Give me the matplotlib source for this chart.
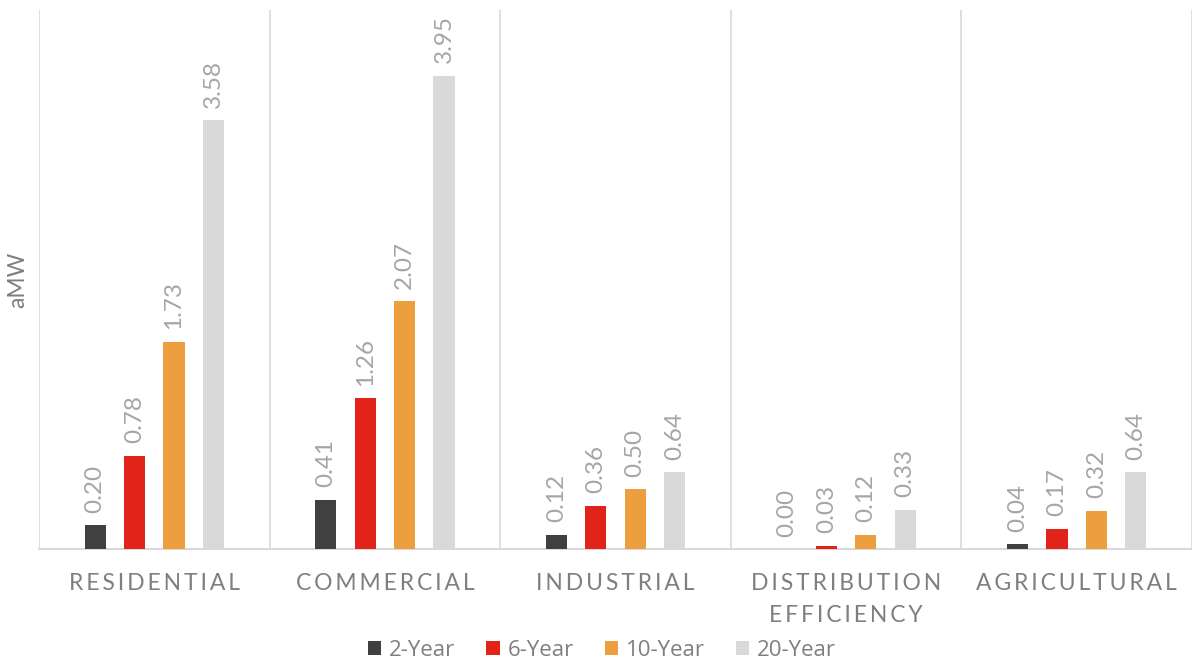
import matplotlib.pyplot as plt
import numpy as np

plt.rcParams['font.family'] = ['Lato', 'DejaVu Sans']

categories = ['RESIDENTIAL', 'COMMERCIAL', 'INDUSTRIAL', 'DISTRIBUTION\nEFFICIENCY', 'AGRICULTURAL']
series_names = ['2-Year', '6-Year', '10-Year', '20-Year']
data_2yr = [0.20, 0.41, 0.12, 0.00, 0.04]
data_6yr = [0.78, 1.26, 0.36, 0.03, 0.17]
data_10yr = [1.73, 2.07, 0.50, 0.12, 0.32]
data_20yr = [3.58, 3.95, 0.64, 0.33, 0.64]

colors = ['#404040', '#E2231A', '#ED9E3F', '#D9D9D9']
series = [data_2yr, data_6yr, data_10yr, data_20yr]


def spaced(s):
    # mimic Excel's letter spacing on the category labels
    return '\n'.join('\u2009'.join(line) for line in s.split('\n'))


fig = plt.figure(figsize=(11.92, 6.6), dpi=100)
ax = fig.add_axes([0.0327, 0.168, 0.9673, 0.817])

index = np.arange(len(categories))
width = 0.092
step = 0.171

for i, (vals, name, col) in enumerate(zip(series, series_names, colors)):
    pos = index + (i - 1.5) * step
    bars = ax.bar(pos, vals, width, color=col, label=name, zorder=3)
    for b, v in zip(bars, vals):
        ax.annotate('%.2f' % v, (b.get_x() + b.get_width() / 2, v),
                    xytext=(0, 9), textcoords='offset points',
                    rotation=90, ha='center', va='bottom',
                    fontsize=17.5, color='#a6a6a6')

ax.set_xlim(-0.5, len(categories) - 0.5)
ax.set_ylim(0, 4.5)

# separators between categories
for x in np.arange(-0.5, len(categories), 1.0):
    ax.axvline(x, color='#d9d9d9', lw=1.2, zorder=1)

ax.set_xticks(index)
ax.set_xticklabels([spaced(c) for c in categories], fontsize=16.5, color='#7f7f7f',
                   linespacing=1.65)
ax.tick_params(axis='x', length=0, pad=17)
ax.set_yticks([])
ax.set_ylabel('aMW', fontsize=16.5, color='#7f7f7f', labelpad=8)

for s in ['top', 'right', 'left']:
    ax.spines[s].set_visible(False)
ax.spines['bottom'].set_color('#d9d9d9')
ax.spines['bottom'].set_linewidth(1.5)

fig.legend(loc='lower center', bbox_to_anchor=(0.505, -0.032), ncol=4, frameon=False,
           prop={'family': 'Open Sans', 'size': 16},
           handlelength=0.6, handleheight=0.6, handletextpad=0.35,
           columnspacing=1.4, labelcolor='#7f7f7f')

fig.savefig('out.png', dpi=100)
